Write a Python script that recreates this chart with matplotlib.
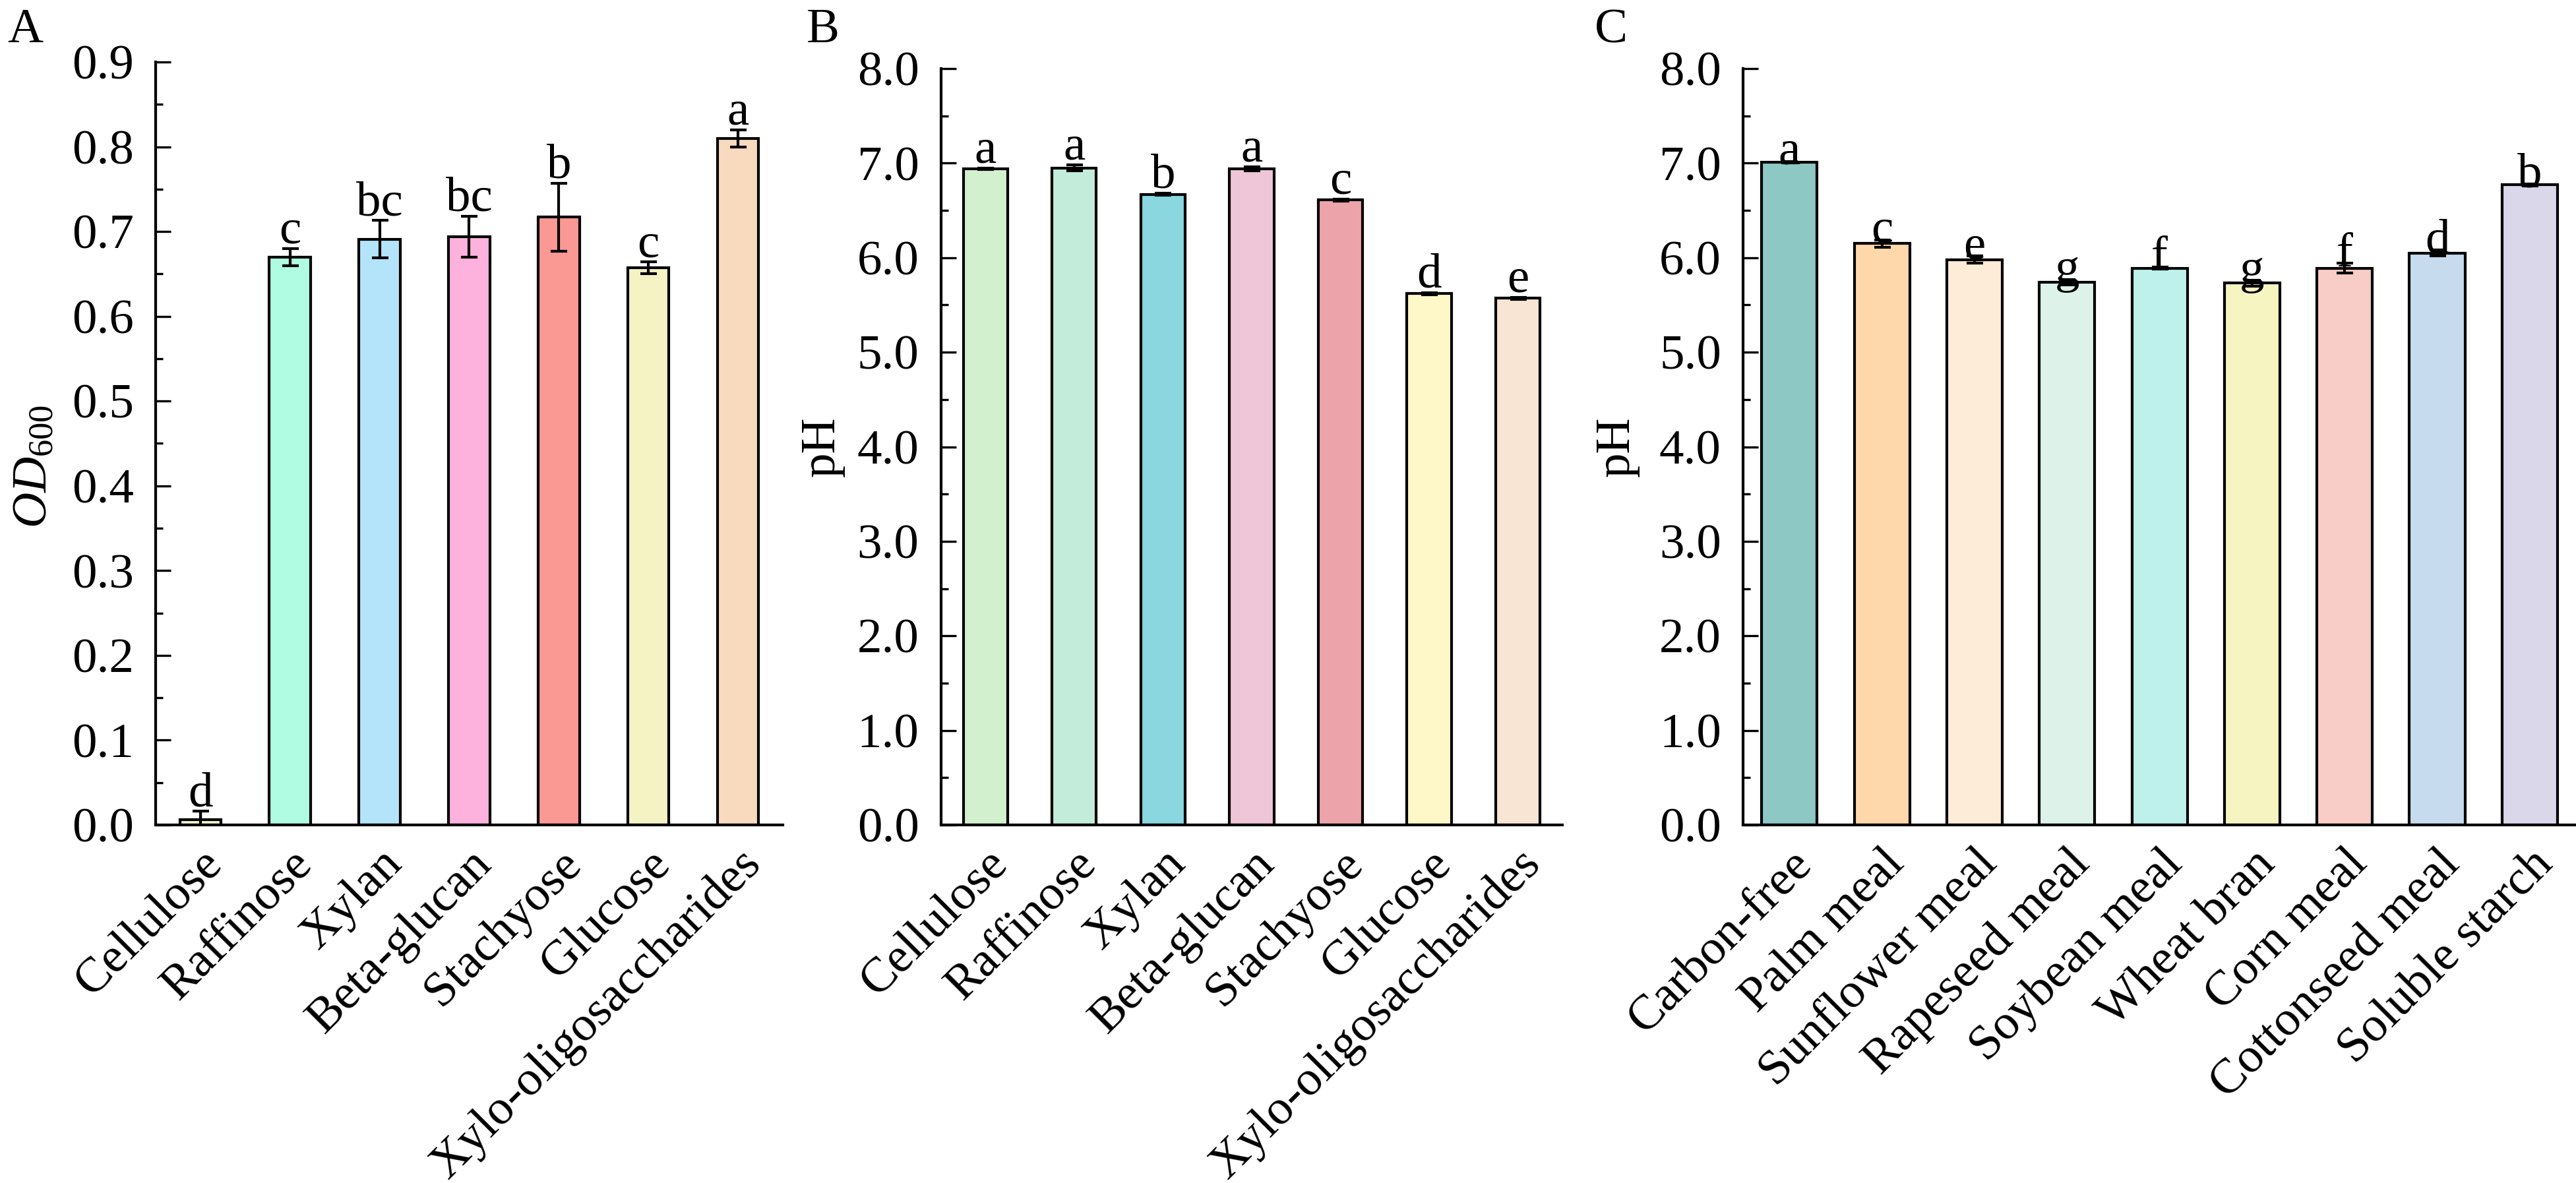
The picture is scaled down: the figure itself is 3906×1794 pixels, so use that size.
import numpy as np
import matplotlib
matplotlib.use("Agg")
import matplotlib.pyplot as plt
from matplotlib.ticker import MultipleLocator, FormatStrFormatter

plt.rcParams['font.family'] = ['Liberation Serif', 'DejaVu Serif']
plt.rcParams['mathtext.fontset'] = 'custom'
plt.rcParams['mathtext.rm'] = 'Liberation Serif'
plt.rcParams['mathtext.it'] = 'Liberation Serif:italic'

# панель A - OD600 на сахарах
sugars = ['Cellulose', 'Raffinose', 'Xylan', 'Beta-glucan', 'Stachyose',
          'Glucose', 'Xylo-oligosaccharides']
od_mean = [0.006, 0.670, 0.691, 0.694, 0.717, 0.657, 0.810]
od_err = [0.010, 0.010, 0.022, 0.024, 0.040, 0.007, 0.010]
od_sig = ['d', 'c', 'bc', 'bc', 'b', 'c', 'a']
od_colors = ['#EEF6CC', '#AFFCE3', '#B4E4FA', '#FCB2DC', '#FA9893',
             '#F5F3C3', '#F8DABF']

# панель B - pH на сахарах
ph_sug_mean = [6.94, 6.95, 6.67, 6.94, 6.61, 5.62, 5.57]
ph_sug_err = [0.01, 0.03, 0.01, 0.02, 0.01, 0.01, 0.01]
ph_sug_sig = ['a', 'a', 'b', 'a', 'c', 'd', 'e']
ph_sug_colors = ['#D2F0CD', '#C3EDDA', '#8AD7DF', '#EFC6D7', '#ECA4AA',
                 '#FEF8C9', '#F8E5D4']

# панель C - pH на шротах
meals = ['Carbon-free', 'Palm meal', 'Sunflower meal', 'Rapeseed meal',
         'Soybean meal', 'Wheat bran', 'Corn meal', 'Cottonseed meal',
         'Soluble starch']
ph_meal_mean = [7.01, 6.15, 5.98, 5.74, 5.89, 5.73, 5.89, 6.05, 6.77]
ph_meal_err = [0.01, 0.04, 0.04, 0.03, 0.01, 0.03, 0.05, 0.03, 0.01]
ph_meal_sig = ['a', 'c', 'e', 'g', 'f', 'g', 'f', 'd', 'b']
ph_meal_colors = ['#8DC8C4', '#FED8AA', '#FDECD8', '#DDF3EA', '#BFF1EC',
                  '#F6F4C1', '#F8CDC7', '#C6DBEE', '#DAD7EB']

fig = plt.figure(figsize=(13.02, 5.98), dpi=300)

FS = 18
LW = 1.0


def draw_panel(rect, names, mean, err, sig, colors, width, ymax, major,
               ylabel, lab_x, lab_y, sig_off):
    ax = fig.add_axes(rect)
    x = np.arange(len(names))
    ax.bar(x, mean, width=width, color=colors, edgecolor='black',
           linewidth=1.0, zorder=2)
    ax.errorbar(x, mean, yerr=err, fmt='none', ecolor='black',
                elinewidth=1.0, capsize=3, capthick=1.0, zorder=3)
    for xi, m, e, s in zip(x, mean, err, sig):
        ax.annotate(s, (xi, m + e), xytext=(0, sig_off),
                    textcoords='offset points', ha='center', va='baseline',
                    fontsize=18)
    ax.set_xlim(-0.5, len(names) - 0.5)
    ax.set_ylim(0, ymax)
    ax.yaxis.set_major_locator(MultipleLocator(major))
    ax.yaxis.set_minor_locator(MultipleLocator(major / 2))
    ax.yaxis.set_major_formatter(FormatStrFormatter('%.1f'))
    ax.set_xticks(x)
    ax.set_xticklabels(names, rotation=45, ha='right',
                       rotation_mode='anchor', fontsize=FS)
    ax.tick_params(axis='both', which='major', direction='in', length=5.5,
                   width=0.8, labelsize=FS)
    ax.tick_params(axis='y', which='major', pad=8)
    ax.tick_params(axis='x', which='major', pad=6)
    ax.tick_params(axis='y', which='minor', direction='in', length=2.7,
                   width=0.8)
    for side in ['top', 'right']:
        ax.spines[side].set_visible(False)
    for side in ['left', 'bottom']:
        ax.spines[side].set_linewidth(LW)
    ax.set_ylabel(ylabel, fontsize=FS)
    ax.yaxis.set_label_coords(lab_x, lab_y)
    return ax


draw_panel([0.0604, 0.3027, 0.2435, 0.6449], sugars, od_mean, od_err, od_sig,
           od_colors, 0.46, 0.9, 0.1, r'$\mathit{OD}_{\mathrm{600}}$',
           -0.157, 0.47, 2)
draw_panel([0.3653, 0.3027, 0.2412, 0.6393], sugars, ph_sug_mean, ph_sug_err,
           ph_sug_sig, ph_sug_colors, 0.5, 8.0, 1.0, 'pH',
           -0.155, 0.5, 2)
draw_panel([0.6767, 0.3027, 0.3233, 0.6393], meals, ph_meal_mean, ph_meal_err,
           ph_meal_sig, ph_meal_colors, 0.6, 8.0, 1.0, 'pH',
           -0.125, 0.5, -1)

fig.text(0.003, 0.993, 'A', fontsize=18, ha='left', va='top')
fig.text(0.313, 0.993, 'B', fontsize=18, ha='left', va='top')
fig.text(0.619, 0.993, 'C', fontsize=18, ha='left', va='top')

fig.savefig('out.png', dpi=300)
